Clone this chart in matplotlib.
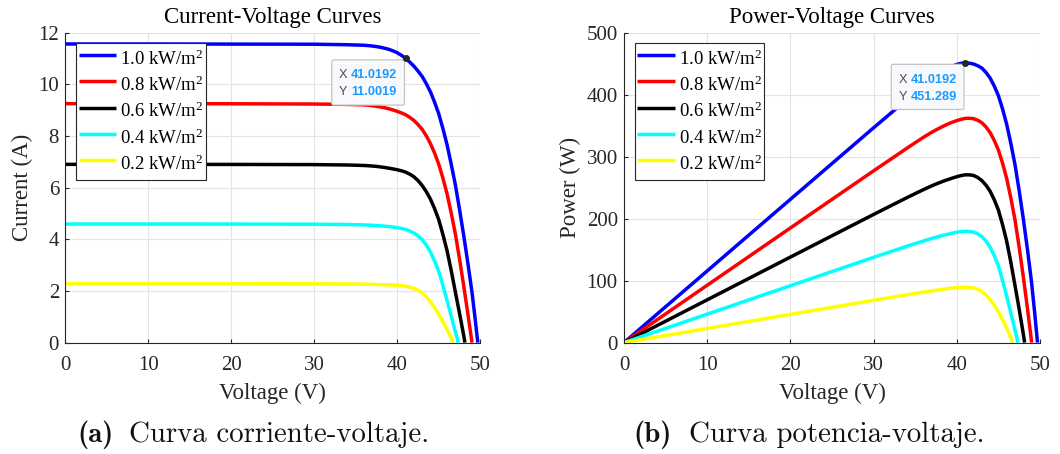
import matplotlib
matplotlib.use("Agg")
import matplotlib.pyplot as plt
from matplotlib.patches import FancyBboxPatch
from matplotlib.transforms import ScaledTranslation
import numpy as np

# ---------------------------------------------------------------- data
irradiance_labels = ["1.0 kW/m$^2$", "0.8 kW/m$^2$", "0.6 kW/m$^2$",
                     "0.4 kW/m$^2$", "0.2 kW/m$^2$"]
line_colors = ["#0000ff", "#ff0000", "#000000", "#00ffff", "#ffff00"]

voltage_10 = [0, 10, 20, 30, 34, 35, 36, 36.5, 37, 37.5, 38, 38.5, 39, 39.5,
              40, 40.5, 41.0192, 41.5, 42, 42.5, 43, 43.5, 44, 44.5, 45,
              45.5, 46, 46.5, 47, 47.5, 48, 48.5, 49, 49.35, 49.7]
current_10 = [11.56, 11.56, 11.555, 11.55, 11.53, 11.52, 11.51, 11.497,
              11.48, 11.458, 11.43, 11.393, 11.35, 11.29, 11.22, 11.12,
              11.0019, 10.86, 10.7, 10.51, 10.3, 10.02, 9.7, 9.3, 8.85,
              8.28, 7.65, 6.9, 6.1, 5.15, 4.15, 3.08, 1.95, 1.0, 0]

voltage_08 = [0, 10, 20, 30, 34, 35, 36, 36.5, 37, 37.5, 38, 38.5, 39, 39.5,
              40, 40.5, 41, 41.5, 42, 42.5, 43, 43.5, 44, 44.5, 45, 45.5,
              46, 46.5, 47, 47.5, 48, 48.5, 49]
current_08 = [9.25, 9.25, 9.245, 9.235, 9.22, 9.212, 9.2, 9.187, 9.17,
              9.147, 9.12, 9.088, 9.05, 9.003, 8.95, 8.89, 8.82, 8.72, 8.6,
              8.44, 8.25, 8.0, 7.7, 7.33, 6.9, 6.36, 5.75, 5.01, 4.2, 3.23,
              2.2, 1.12, 0]

voltage_06 = [0, 10, 20, 30, 34, 35, 36, 36.5, 37, 37.5, 38, 38.5, 39, 39.5,
              40, 40.5, 41, 41.5, 42, 42.5, 43, 43.5, 44, 44.5, 45, 45.5,
              46, 46.5, 47, 47.5, 48, 48.15]
current_06 = [6.9, 6.9, 6.897, 6.89, 6.875, 6.866, 6.855, 6.846, 6.835,
              6.82, 6.8, 6.777, 6.75, 6.722, 6.69, 6.65, 6.6, 6.52, 6.42,
              6.27, 6.08, 5.84, 5.55, 5.18, 4.75, 4.18, 3.55, 2.78, 1.95,
              1.13, 0.28, 0]

voltage_04 = [0, 10, 20, 30, 34, 35, 36, 36.5, 37, 37.5, 38, 38.5, 39, 39.5,
              40, 40.5, 41, 41.5, 42, 42.5, 43, 43.5, 44, 44.5, 45, 45.5,
              46, 46.5, 47, 47.35]
current_04 = [4.59, 4.59, 4.588, 4.583, 4.57, 4.563, 4.555, 4.548, 4.54,
              4.531, 4.52, 4.506, 4.49, 4.472, 4.45, 4.42, 4.38, 4.32, 4.24,
              4.13, 3.98, 3.77, 3.5, 3.15, 2.75, 2.2, 1.62, 1.02, 0.42, 0]

voltage_02 = [0, 10, 20, 30, 34, 35, 36, 36.5, 37, 37.5, 38, 38.5, 39, 39.5,
              40, 40.5, 41, 41.5, 42, 42.5, 43, 43.5, 44, 44.5, 45, 45.5,
              46, 46.4, 46.75]
current_02 = [2.28, 2.28, 2.279, 2.276, 2.27, 2.266, 2.262, 2.259, 2.255,
              2.25, 2.245, 2.24, 2.235, 2.228, 2.22, 2.203, 2.18, 2.145, 2.1,
              2.02, 1.92, 1.77, 1.58, 1.35, 1.1, 0.81, 0.5, 0.24, 0]

voltages = [voltage_10, voltage_08, voltage_06, voltage_04, voltage_02]
currents = [current_10, current_08, current_06, current_04, current_02]

# maximum power point of the 1.0 kW/m2 curve (data tip)
mpp_voltage = 41.0192
mpp_current = 11.0019

x_ticks = [0, 10, 20, 30, 40, 50]
i_ticks = [0, 2, 4, 6, 8, 10, 12]
p_ticks = [0, 100, 200, 300, 400, 500]

# ---------------------------------------------------------------- style
plt.rcParams["font.family"] = ["Liberation Serif", "DejaVu Serif"]
plt.rcParams["mathtext.fontset"] = "custom"
plt.rcParams["mathtext.rm"] = "Liberation Serif"
plt.rcParams["mathtext.it"] = "Liberation Serif:italic"
plt.rcParams["mathtext.bf"] = "Liberation Serif:bold"

W, H = 1060, 454
fig = plt.figure(figsize=(W / 100, H / 100), dpi=100)
fig.patch.set_facecolor("white")

ax_i = fig.add_axes([65.3 / W, 1 - 342.6 / H, 415 / W, 310 / H])
ax_p = fig.add_axes([624 / W, 1 - 342.6 / H, 416 / W, 310 / H])

TICK_COLOR = "#262626"


def style_axes(ax, yticks, ylim, title, ylabel):
    ax.set_xlim(0, 50)
    ax.set_ylim(*ylim)
    ax.set_xticks(x_ticks)
    ax.set_yticks(yticks)
    ax.grid(True, color="#e3e3e3", linewidth=0.8)
    ax.set_axisbelow(True)
    for side in ("top", "right"):
        ax.spines[side].set_visible(False)
    for side in ("left", "bottom"):
        ax.spines[side].set_color(TICK_COLOR)
        ax.spines[side].set_linewidth(0.8)
    ax.tick_params(direction="in", length=3, width=0.8, colors=TICK_COLOR,
                   labelsize=15)
    ax.tick_params(axis="x", pad=9.5)
    ax.tick_params(axis="y", pad=4.5)
    ax.set_title(title, fontsize=16.5, color="black", pad=7)
    ax.set_xlabel("Voltage (V)", fontsize=16.5, color=TICK_COLOR,
                  labelpad=5.5)
    ax.set_ylabel(ylabel, fontsize=16.5, color=TICK_COLOR, labelpad=4)


def add_datatip(ax, x, y):
    # box anchored (in inches) to the data point
    trans = fig.dpi_scale_trans + ScaledTranslation(x, y, ax.transData)
    box = FancyBboxPatch((-0.74, -0.467), 0.727, 0.452,
                         boxstyle="round,pad=0,rounding_size=0.02",
                         transform=trans, facecolor="#f8f9fd",
                         edgecolor="#c4c4c8", linewidth=0.9, zorder=6,
                         clip_on=False)
    ax.add_artist(box)
    kw = dict(transform=trans, va="center", ha="left", fontsize=9.2,
              family=["Liberation Sans", "DejaVu Sans"], zorder=7)
    ax.text(-0.67, -0.17, "X", color="#4d4d4d", **kw)
    ax.text(-0.55, -0.17, f"{x:.6g}", color="#1a9bff", fontweight="bold", **kw)
    ax.text(-0.67, -0.337, "Y", color="#4d4d4d", **kw)
    ax.text(-0.55, -0.337, f"{y:.6g}", color="#1a9bff", fontweight="bold", **kw)
    ax.plot([x], [y], marker="o", markersize=4, color="#262626",
            markeredgecolor="#262626", zorder=8, clip_on=False)


def add_legend(ax):
    leg = ax.legend(loc="upper left", bbox_to_anchor=(0.026, 0.967),
                    borderaxespad=0, fontsize=13.5, handlelength=2.0,
                    handleheight=1.78, handletextpad=0.2, borderpad=0.14,
                    labelspacing=0.0, frameon=True, fancybox=False,
                    framealpha=1)
    leg.get_frame().set_edgecolor(TICK_COLOR)
    leg.get_frame().set_linewidth(0.8)
    leg.set_zorder(10)


LW = 2.5

# ---------------------------------------------------------------- I-V curves
for v, i, c, lab in zip(voltages, currents, line_colors, irradiance_labels):
    ax_i.plot(v, i, color=c, linewidth=LW, label=lab,
              solid_capstyle="butt", solid_joinstyle="round")
style_axes(ax_i, i_ticks, (0, 12), "Current-Voltage Curves", "Current (A)")
add_legend(ax_i)
add_datatip(ax_i, mpp_voltage, mpp_current)

# ---------------------------------------------------------------- P-V curves
for v, i, c, lab in zip(voltages, currents, line_colors, irradiance_labels):
    p = np.asarray(v) * np.asarray(i)
    ax_p.plot(v, p, color=c, linewidth=LW, label=lab,
              solid_capstyle="butt", solid_joinstyle="round")
style_axes(ax_p, p_ticks, (0, 500), "Power-Voltage Curves", "Power (W)")
add_legend(ax_p)
add_datatip(ax_p, mpp_voltage, mpp_voltage * mpp_current)

# ---------------------------------------------------------------- captions
cap_y = 1 - 442 / H
CAP = 20.8
fig.text(77 / W, cap_y, "(a)", family="cmb10", fontsize=CAP, va="baseline",
         color="#111111")
fig.text(129 / W, cap_y, "Curva corriente-voltaje.", family="cmr10",
         fontsize=CAP, va="baseline", color="#111111")
fig.text(633 / W, cap_y, "(b)", family="cmb10", fontsize=CAP, va="baseline",
         color="#111111")
fig.text(689 / W, cap_y, "Curva potencia-voltaje.", family="cmr10",
         fontsize=CAP, va="baseline", color="#111111")

fig.savefig("out.png", dpi=100, facecolor="white")
